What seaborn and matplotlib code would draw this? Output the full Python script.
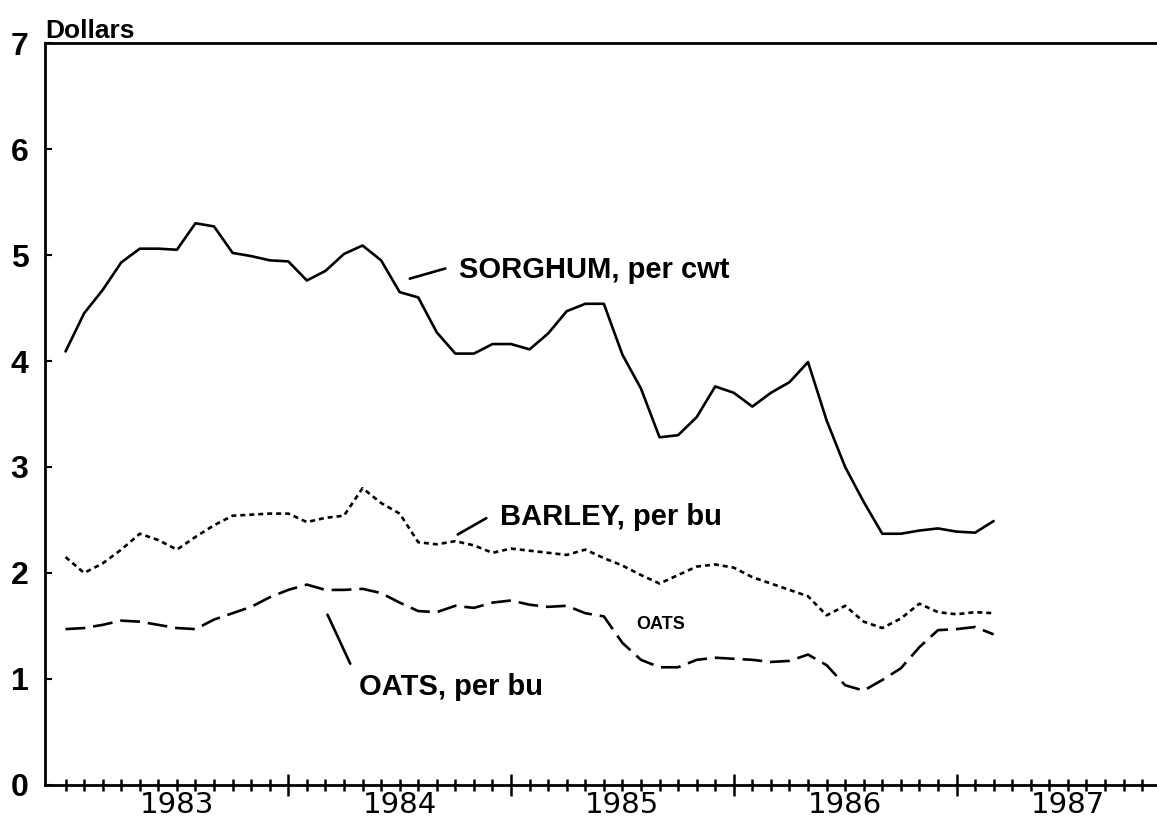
#Load required libraries
import pandas as pd
import numpy as np
import matplotlib.pyplot as plt
import seaborn as sns

#Monthly prices, Jan 1983 = month 0
months = list(range(51))
sorghum = [4.09, 4.45, 4.67, 4.93, 5.06, 5.06, 5.05, 5.30, 5.27, 5.02,
           4.99, 4.95, 4.94, 4.76, 4.85, 5.01, 5.09, 4.95, 4.65, 4.60,
           4.27, 4.07, 4.07, 4.16, 4.16, 4.11, 4.26, 4.47, 4.54, 4.54,
           4.06, 3.74, 3.28, 3.30, 3.47, 3.76, 3.70, 3.57, 3.70, 3.80,
           3.99, 3.44, 3.00, 2.67, 2.37, 2.37, 2.40, 2.42, 2.39, 2.38, 2.49]
barley = [2.15, 2.00, 2.09, 2.22, 2.37, 2.31, 2.22, 2.34, 2.45, 2.54,
          2.55, 2.56, 2.56, 2.48, 2.52, 2.54, 2.80, 2.66, 2.56, 2.29,
          2.27, 2.30, 2.26, 2.19, 2.23, 2.21, 2.19, 2.17, 2.22, 2.14,
          2.07, 1.98, 1.90, 1.98, 2.06, 2.08, 2.05, 1.96, 1.90, 1.84,
          1.78, 1.60, 1.69, 1.54, 1.48, 1.57, 1.71, 1.63, 1.61, 1.63, 1.62]
oats = [1.47, 1.48, 1.51, 1.55, 1.54, 1.51, 1.48, 1.47, 1.56, 1.62,
        1.68, 1.77, 1.84, 1.89, 1.84, 1.84, 1.85, 1.81, 1.72, 1.64,
        1.63, 1.69, 1.67, 1.72, 1.74, 1.70, 1.68, 1.69, 1.62, 1.59,
        1.34, 1.18, 1.11, 1.11, 1.18, 1.20, 1.19, 1.18, 1.16, 1.17,
        1.23, 1.13, 0.94, 0.89, 0.99, 1.10, 1.30, 1.46, 1.47, 1.49, 1.42]
year_labels = ['1983', '1984', '1985', '1986', '1987']
year_centers = [6, 18, 30, 42, 54]
y_ticks = [0, 1, 2, 3, 4, 5, 6, 7]

data = pd.DataFrame({'Month': months, 'Sorghum': sorghum,
                     'Barley': barley, 'Oats': oats})

sns.set_style('ticks')
plt.rcParams['font.family'] = ['Liberation Sans', 'DejaVu Sans']
plt.rcParams['text.color'] = 'black'
plt.rcParams['xtick.color'] = 'black'
plt.rcParams['ytick.color'] = 'black'
plt.rcParams['axes.edgecolor'] = 'black'

fig = plt.figure(figsize=(11.57, 8.21), dpi=100)
ax = fig.add_axes([0.039, 0.044, 0.961, 0.9035])

lw = 1.9
sns.lineplot(data=data, x='Month', y='Sorghum', ax=ax, color='black', lw=lw)
sns.lineplot(data=data, x='Month', y='Barley', ax=ax, color='black', lw=lw,
             linestyle=(0, (1.9, 1.5)))
sns.lineplot(data=data, x='Month', y='Oats', ax=ax, color='black', lw=lw,
             linestyle=(0, (7.5, 3.0)))

ax.set_xlim(-1.1, 58.8)
ax.set_ylim(0, 7)
ax.set_xlabel('')
ax.set_ylabel('')

#Spines
ax.spines['right'].set_visible(False)
for s in ['left', 'bottom', 'top']:
    ax.spines[s].set_linewidth(2)
    ax.spines[s].set_color('black')

#Y axis
ax.set_yticks(y_ticks)
ax.set_yticklabels([str(v) for v in y_ticks], fontsize=23, fontweight='bold',
                   color='black')
ax.tick_params(axis='y', direction='in', length=5, width=1.5, pad=12)

#X axis: tall ticks at year boundaries, small monthly ticks
ax.set_xticks([12, 24, 36, 48])
ax.set_xticks([m for m in range(0, 59) if m % 12 != 0 or m == 0], minor=True)
ax.set_xticklabels([])
ax.tick_params(axis='x', which='major', direction='inout', length=16, width=1.8)
ax.tick_params(axis='x', which='minor', direction='inout', length=8, width=1.8)
for lab, c in zip(year_labels, year_centers):
    ax.text(c, -0.027, lab, transform=ax.get_xaxis_transform(),
            ha='center', va='center', fontsize=21, family='DejaVu Sans',
            color='black')

fig.text(0.039, 1 - 38 / 821, 'Dollars', fontsize=19, fontweight='bold',
         ha='left', va='baseline', color='black')

#Series labels with leader lines
ax.text(21.2, 4.86, 'SORGHUM, per cwt', fontsize=21, fontweight='bold',
        ha='left', va='center', color='black')
ax.annotate('', xy=(18.4, 4.77), xytext=(20.6, 4.88),
            arrowprops=dict(arrowstyle='-', lw=lw, color='black'))
ax.text(23.4, 2.53, 'BARLEY, per bu', fontsize=21, fontweight='bold',
        ha='left', va='center', color='black')
ax.annotate('', xy=(21.0, 2.35), xytext=(22.8, 2.53),
            arrowprops=dict(arrowstyle='-', lw=lw, color='black'))
ax.text(15.8, 0.92, 'OATS, per bu', fontsize=21, fontweight='bold',
        ha='left', va='center', color='black')
ax.annotate('', xy=(14.05, 1.63), xytext=(15.4, 1.12),
            arrowprops=dict(arrowstyle='-', lw=lw, color='black'))
ax.text(30.75, 1.51, 'OATS', fontsize=13, fontweight='bold',
        ha='left', va='center', color='black')

plt.savefig('out.png', dpi=100)
